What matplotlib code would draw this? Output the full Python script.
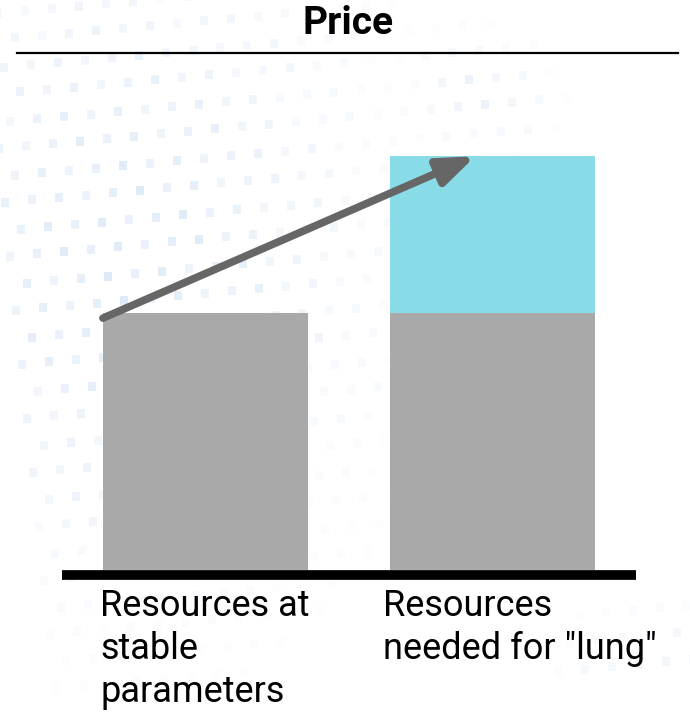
import numpy as np
import matplotlib
matplotlib.use("Agg")
import matplotlib.pyplot as plt
from matplotlib.patches import Rectangle
from matplotlib.collections import PatchCollection

plt.rcParams['font.family'] = ['Roboto', 'DejaVu Sans']

# Data
categories = ['Resources at\nstable\nparameters', 'Resources\nneeded for "lung"']
base_values = [1.0, 1.0]
extra_values = [0.0, 0.61]
title = 'Price'

BASE_COLOR = '#a9a9a9'
EXTRA_COLOR = '#89dce7'
ARROW_COLOR = '#666666'

W, H = 690, 714
fig = plt.figure(figsize=(W / 100, H / 100), dpi=100)
fig.patch.set_facecolor('white')

# Faint decorative dot texture in the background
bg = fig.add_axes([0, 0, 1, 1], zorder=0)
bg.set_xlim(0, W)
bg.set_ylim(H, 0)
bg.axis('off')
squares, alphas = [], []
step = 27
for i, gx in enumerate(np.arange(-20, W + 20, step)):
    for j, gy in enumerate(np.arange(-20, H + 20, step)):
        x = gx + (j % 2) * step / 2 + 0.35 * gy * 0.3
        y = gy - 0.3 * gx * 0.3
        a1 = np.exp(-((x - 120) ** 2) / (2 * 150 ** 2) - ((y - 250) ** 2) / (2 * 200 ** 2))
        a2 = 0.6 * np.exp(-((x - 470) ** 2) / (2 * 50 ** 2) - ((y - 90) ** 2) / (2 * 40 ** 2))
        a3 = 0.6 * np.exp(-((x - 650) ** 2) / (2 * 60 ** 2) - ((y - 680) ** 2) / (2 * 50 ** 2))
        a = max(a1, a2, a3)
        if a > 0.08:
            squares.append(Rectangle((x, y), 8, 9))
            alphas.append(0.45 * a * (0.6 + 0.4 * ((i * 7 + j * 3) % 5) / 4))
pc = PatchCollection(squares, facecolor=[(0.72, 0.82, 0.94, a) for a in alphas], edgecolor='none')
bg.add_collection(pc)

# Title and rule beneath it
fig.text(348 / W, 1 - 24 / H, title, ha='center', va='center',
         fontsize=28, fontweight='bold', color='black')
fig.add_artist(plt.Line2D([17 / W, 678 / W], [1 - 53 / H, 1 - 53 / H],
                          color='black', lw=1.6))

# Main axes: bottom at the baseline, scaled so one unit = 257 px
x0, x1 = 62, 636
y_bottom, y_top = 570, 100
ax = fig.add_axes([x0 / W, 1 - y_bottom / H, (x1 - x0) / W, (y_bottom - y_top) / H], zorder=1)
ax.patch.set_alpha(0)
ax.set_xlim(-0.5, 1.5)
ax.set_ylim(0, (y_bottom - y_top) / 257)
for s in ax.spines.values():
    s.set_visible(False)
ax.set_xticks([])
ax.set_yticks([])

xpos = np.arange(len(categories))
bar_w = 0.715
ax.bar(xpos, base_values, width=bar_w, color=BASE_COLOR, zorder=2)
ax.bar(xpos, extra_values, width=bar_w, bottom=base_values, color=EXTRA_COLOR, zorder=2)

# Thick baseline
ax.plot([-0.5, 1.5], [-0.018, -0.018], color='black', lw=7, solid_capstyle='butt',
        clip_on=False, zorder=3)

# Growth arrow from the first bar top to the second bar top
start = (xpos[0] - bar_w / 2, base_values[0] - 0.02)
end = (0.94, base_values[1] + extra_values[1])
ax.annotate('', xy=end, xytext=start,
            arrowprops=dict(arrowstyle='-|>,head_length=1.1,head_width=0.42',
                            color=ARROW_COLOR, lw=5.5, shrinkA=0, shrinkB=0,
                            mutation_scale=20),
            zorder=4, annotation_clip=False)

# Category labels, left-aligned under each bar
for xp, lab, dx in zip(xpos, categories, [-0.01, -0.025]):
    ax.text(xp - bar_w / 2 + dx, -0.07, lab, ha='left', va='top',
            fontsize=26, color='black', linespacing=1.25, clip_on=False)

fig.savefig('out.png', dpi=100)
